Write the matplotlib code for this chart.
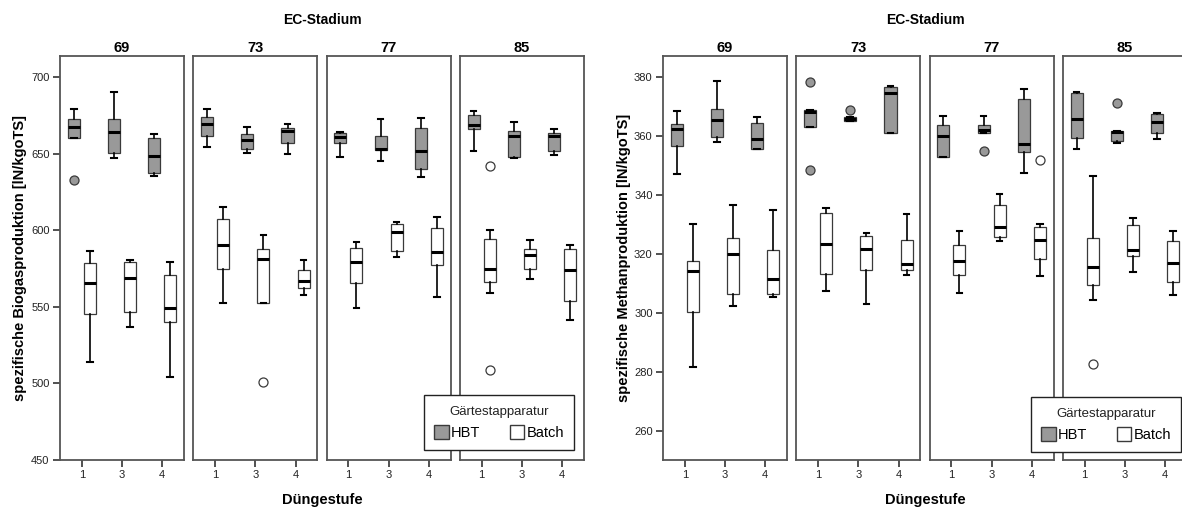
import matplotlib
matplotlib.use("Agg")
import matplotlib.pyplot as plt
from matplotlib.patches import Patch

plt.rcParams['font.family'] = ['Liberation Sans', 'DejaVu Sans']

# Kategorien
stadien = ["69", "73", "77", "85"]
duengestufen = ["1", "3", "4"]

# Biogas - HBT (Reihenfolge: 69-1, 69-3, 69-4, 73-1, ... 85-4)
bio_hbt_whishi = [679, 690, 662.6, 679, 667.2, 669.3, 664.3, 672.4, 673.2, 677.8, 670.4, 665.9]
bio_hbt_q3 = [672.4, 672.6, 660, 674.1, 662.8, 666.5, 663.2, 661.7, 666.9, 675.2, 665, 663.2]
bio_hbt_med = [667.2, 663.9, 648.4, 669.3, 658.9, 665, 661, 653, 652, 668.7, 661.7, 661.5]
bio_hbt_q1 = [660, 650.2, 637.1, 661.5, 653, 657.2, 656.7, 652.4, 639.8, 665.9, 648, 652]
bio_hbt_whislo = [660, 647, 635.6, 654.6, 650.6, 649.7, 647.6, 645.4, 635, 652, 647, 649]
bio_hbt_fliers = [[632.6], [], [], [], [], [], [], [], [], [], [], []]

# Biogas - Batch
bio_bat_whishi = [586.4, 580.5, 579.4, 615.4, 596.9, 580.5, 592.5, 605.6, 608.9, 600.1, 593.4, 590.4]
bio_bat_q3 = [578.8, 579, 570.8, 607.3, 587.6, 574, 588.6, 603.9, 601.2, 594, 588, 587.7]
bio_bat_med = [565.3, 568.6, 549.4, 590.1, 581, 567, 579.3, 598.8, 586, 574.5, 583.6, 574]
bio_bat_q1 = [545.1, 546.8, 540.3, 574.5, 552.3, 562, 565.3, 586.4, 577.3, 566.4, 574.9, 554]
bio_bat_whislo = [514.2, 536.6, 504, 552.3, 552.3, 557.7, 549, 582.7, 556.6, 559.2, 568, 541.4]
bio_bat_fliers = [[], [], [], [], [500.7], [], [], [], [], [641.6, 508.7], [], []]

# Methan - HBT
met_hbt_whishi = [368.7, 378.6, 366.5, 368.9, 366.4, 376.9, 366.9, 366.9, 376, 375.1, 361.8, 368]
met_hbt_q3 = [364.1, 369.1, 364.4, 368.9, 366.4, 376.7, 363.8, 363.7, 372.6, 374.6, 361.8, 367.5]
met_hbt_med = [362.3, 365.5, 359, 368.2, 365.8, 374.8, 360.2, 362.1, 357.2, 365.8, 361.4, 364.9]
met_hbt_q1 = [356.7, 359.6, 355.5, 363, 365.2, 361, 352.8, 361, 354.7, 359.4, 358.5, 361.2]
met_hbt_whislo = [347, 358.1, 355.5, 363, 365.2, 361, 352.8, 361, 347.4, 355.7, 357.6, 359]
met_hbt_fliers = [[], [], [], [378.3, 348.4], [369], [], [], [354.9], [], [], [371.2], []]

# Methan - Batch
met_bat_whishi = [330.2, 336.7, 334.8, 335.5, 327.2, 333.6, 327.8, 340.4, 330.1, 346.6, 332.3, 327.7]
met_bat_q3 = [317.6, 325.3, 321.3, 333.8, 326.1, 324.6, 322.9, 336.6, 329.3, 325.3, 329.8, 324.5]
met_bat_med = [314.3, 320, 311.4, 323.5, 321.8, 316.6, 317.6, 329.3, 324.6, 315.7, 321.5, 316.8]
met_bat_q1 = [300.2, 306.6, 306.6, 313.1, 314.5, 314.5, 313, 325.7, 318.3, 309.5, 319.4, 310.6]
met_bat_whislo = [281.7, 302.3, 305.5, 307.5, 303, 312.8, 306.8, 324.5, 312.7, 304.5, 314, 306]
met_bat_fliers = [[], [], [], [], [], [], [], [], [351.8], [282.6], [], []]

bio_ticks = [450, 500, 550, 600, 650, 700]
met_ticks = [260, 280, 300, 320, 340, 360, 380]

GRAU = "#999999"
RAND = "#3a3a3a"
W, H = 1182, 512


def stats(whislo, q1, med, q3, whishi, fliers, i):
    return dict(whislo=whislo[i], q1=q1[i], med=med[i], q3=q3[i],
                whishi=whishi[i], fliers=fliers[i])


def box_gruppe(ax, st, pos, farbe):
    ax.bxp(st, positions=pos, widths=0.3, capwidths=0.14, patch_artist=True,
           boxprops=dict(facecolor=farbe, edgecolor=RAND, linewidth=0.9),
           medianprops=dict(color="black", linewidth=2.2),
           whiskerprops=dict(color="black", linewidth=1.2),
           capprops=dict(color="black", linewidth=1.5),
           flierprops=dict(marker="o", markersize=6.5, markerfacecolor=farbe,
                           markeredgecolor=RAND, markeredgewidth=0.9),
           manage_ticks=False)


def diagramm(x_links, hbt, bat, ylim, yticks, ylabel, legend_xy, label_x):
    panels_x = [x_links + k * 133.3 for k in range(4)]
    achsen = []
    for s, px in enumerate(panels_x):
        ax = fig.add_axes([px / W, (512 - 460) / H, 124 / W, 404 / H])
        st_h = [stats(*hbt, s * 3 + c) for c in range(3)]
        st_b = [stats(*bat, s * 3 + c) for c in range(3)]
        box_gruppe(ax, st_h, [c - 0.2 for c in range(3)], GRAU)
        box_gruppe(ax, st_b, [c + 0.2 for c in range(3)], "white")
        ax.set_xlim(-0.54, 2.54)
        ax.set_ylim(*ylim)
        ax.set_xticks(range(3))
        ax.set_xticklabels(duengestufen)
        for sp in ax.spines.values():
            sp.set_color("#555555")
            sp.set_linewidth(1.3)
        ax.tick_params(axis="both", direction="out", length=5, width=1.2,
                       color="#333333", labelsize=8, labelcolor="#222222",
                       pad=2.5)
        if s == 0:
            ax.set_yticks(yticks)
        else:
            ax.set_yticks([])
        ax.set_title(stadien[s], fontsize=10.5, fontweight="bold", pad=3)
        achsen.append(ax)
    mitte = (panels_x[0] + panels_x[-1] + 124) / 2
    fig.text(mitte / W, 1 - 20 / H, "EC-Stadium", ha="center", va="center",
             fontsize=10, fontweight="bold")
    fig.text(mitte / W, 1 - 500 / H, "Düngestufe", ha="center", va="center",
             fontsize=10.5, fontweight="bold")
    fig.text(label_x / W, 1 - 258 / H, ylabel, ha="center", va="center",
             rotation=90, fontsize=10.5, fontweight="bold")
    handles = [Patch(facecolor=GRAU, edgecolor=RAND, label="HBT"),
               Patch(facecolor="white", edgecolor=RAND, label="Batch")]
    leg = fig.legend(handles=handles, title="Gärtestapparatur", ncol=2,
                     loc="lower right",
                     bbox_to_anchor=(legend_xy[0] / W, 1 - legend_xy[1] / H),
                     fontsize=10.5, title_fontsize=9.5, fancybox=False,
                     edgecolor="#222222", framealpha=1, handlelength=1.0,
                     handleheight=1.1, handletextpad=0.15, columnspacing=2.0,
                     borderpad=0.7, labelspacing=0.5, borderaxespad=0)
    leg.get_frame().set_linewidth(1.0)
    leg.get_title().set_color("#222222")
    return achsen


fig = plt.figure(figsize=(W / 100, H / 100), dpi=100)

diagramm(60, (bio_hbt_whislo, bio_hbt_q1, bio_hbt_med, bio_hbt_q3, bio_hbt_whishi, bio_hbt_fliers),
         (bio_bat_whislo, bio_bat_q1, bio_bat_med, bio_bat_q3, bio_bat_whishi, bio_bat_fliers),
         (450, 713.7), bio_ticks, "spezifische Biogasproduktion [lN/kgoTS]",
         (574, 450), 20)

diagramm(663, (met_hbt_whislo, met_hbt_q1, met_hbt_med, met_hbt_q3, met_hbt_whishi, met_hbt_fliers),
         (met_bat_whislo, met_bat_q1, met_bat_med, met_bat_q3, met_bat_whishi, met_bat_fliers),
         (250.1, 387.2), met_ticks, "spezifische Methanproduktion [lN/kgoTS]",
         (1181, 452), 624)

fig.savefig("out.png", dpi=100)
